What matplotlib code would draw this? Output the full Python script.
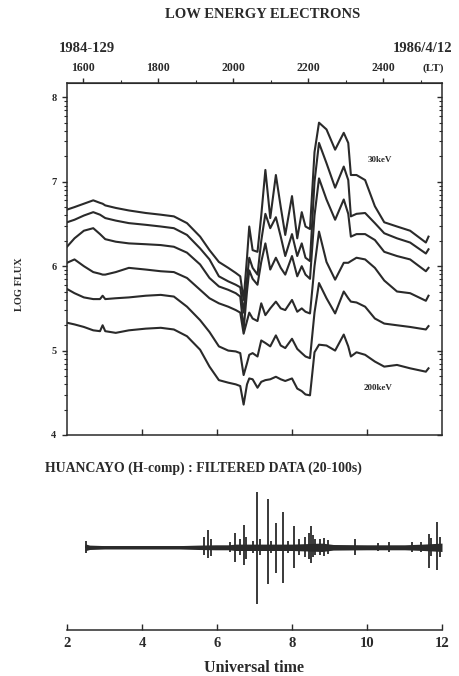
import matplotlib
matplotlib.use("Agg")
import matplotlib.pyplot as plt
from matplotlib.ticker import FixedLocator, NullFormatter
import numpy as np

# ---------------- electron flux (log10), universal time in hours ----------------
ut = [2.0, 2.2, 2.45, 2.7, 2.88, 2.95, 3.02, 3.3, 3.65, 4.1, 4.5, 4.85, 5.2, 5.55, 5.8, 6.05, 6.3, 6.5,
      6.62, 6.71, 6.80, 6.86, 6.95, 7.08, 7.18, 7.29, 7.42, 7.57, 7.70, 7.82, 8.00, 8.14, 8.26, 8.36, 8.48, 8.60,
      8.72, 8.92, 9.15, 9.38, 9.50, 9.57, 9.72, 9.95, 10.21, 10.46, 10.80, 11.15, 11.57, 11.64]

flux_ch1 = [6.67, 6.70, 6.74, 6.78, 6.75, 6.74, 6.72, 6.69, 6.66, 6.63, 6.61, 6.59, 6.51, 6.35, 6.19, 6.05, 5.98, 5.92,
            5.88, 5.60, 6.10, 6.47, 6.19, 6.17, 6.60, 7.14, 6.57, 7.08, 6.70, 6.37, 6.83, 6.33, 6.64, 6.47, 6.44, 7.35,
            7.70, 7.62, 7.38, 7.58, 7.46, 7.08, 7.08, 7.02, 6.71, 6.52, 6.47, 6.42, 6.28, 6.35]
flux_ch2 = [6.52, 6.55, 6.60, 6.64, 6.61, 6.59, 6.57, 6.54, 6.51, 6.49, 6.47, 6.45, 6.37, 6.21, 6.08, 5.88, 5.82, 5.78,
            5.75, 5.45, 5.85, 6.10, 5.98, 5.90, 6.30, 6.62, 6.45, 6.58, 6.35, 6.12, 6.38, 6.12, 6.27, 6.10, 6.06, 7.00,
            7.46, 7.22, 6.93, 7.18, 7.02, 6.59, 6.62, 6.63, 6.51, 6.39, 6.33, 6.28, 6.15, 6.20]
flux_ch3 = [6.23, 6.33, 6.42, 6.45, 6.38, 6.35, 6.32, 6.29, 6.27, 6.26, 6.25, 6.23, 6.16, 6.02, 5.86, 5.76, 5.72, 5.68,
            5.64, 5.25, 5.70, 5.95, 5.85, 5.78, 6.05, 6.27, 5.96, 6.10, 5.98, 5.90, 6.12, 5.88, 6.00, 5.90, 5.85, 6.60,
            7.04, 6.79, 6.55, 6.79, 6.62, 6.35, 6.38, 6.38, 6.31, 6.17, 6.12, 6.08, 5.94, 5.98]
flux_ch4 = [6.04, 6.08, 6.00, 5.93, 5.91, 5.90, 5.90, 5.93, 5.98, 5.96, 5.94, 5.93, 5.86, 5.72, 5.62, 5.56, 5.52, 5.48,
            5.45, 5.20, 5.35, 5.45, 5.38, 5.35, 5.56, 5.42, 5.50, 5.58, 5.50, 5.48, 5.60, 5.46, 5.50, 5.46, 5.44, 6.00,
            6.41, 6.05, 5.84, 6.04, 6.04, 6.06, 6.10, 6.08, 5.98, 5.83, 5.70, 5.68, 5.59, 5.65]
flux_ch5 = [5.73, 5.68, 5.63, 5.61, 5.61, 5.65, 5.61, 5.62, 5.63, 5.65, 5.66, 5.64, 5.52, 5.36, 5.22, 5.05, 5.00, 4.99,
            4.97, 4.71, 4.85, 4.95, 4.97, 4.93, 5.12, 5.09, 5.05, 5.18, 5.06, 5.03, 5.14, 5.02, 4.97, 4.93, 4.91, 5.45,
            5.80, 5.62, 5.44, 5.70, 5.62, 5.58, 5.57, 5.52, 5.38, 5.32, 5.30, 5.28, 5.25, 5.29]
flux_ch6 = [5.33, 5.31, 5.28, 5.24, 5.23, 5.30, 5.23, 5.21, 5.24, 5.26, 5.27, 5.25, 5.17, 5.01, 4.81, 4.65, 4.62, 4.60,
            4.58, 4.36, 4.60, 4.67, 4.66, 4.56, 4.63, 4.65, 4.66, 4.69, 4.66, 4.64, 4.67, 4.55, 4.52, 4.48, 4.47, 4.98,
            5.07, 5.06, 5.00, 5.19, 5.05, 4.93, 4.98, 4.95, 4.87, 4.81, 4.83, 4.79, 4.75, 4.79]
channels = [flux_ch1, flux_ch2, flux_ch3, flux_ch4, flux_ch5, flux_ch6]

lt_ticks = [16, 18, 20, 22, 24]
lt_labels = ["1600", "1800", "2000", "2200", "2400"]
lt_offset = 13.57          # local time minus universal time (hours)
flux_ticks = [4, 5, 6, 7, 8]
ut_ticks = [2, 4, 6, 8, 10, 12]

# ---------------- Huancayo H-component, band-pass 20-100 s ----------------
trace_span = (2.48, 12.0)
env_ut = [2.48, 2.6, 3.0, 4.0, 5.0, 5.5, 5.95, 6.3, 6.5, 7.0, 8.0, 8.8, 9.1, 10.0, 11.0, 11.5, 12.0]
env_amp = [0.35, 0.22, 0.17, 0.17, 0.17, 0.22, 0.25, 0.25, 0.32, 0.32, 0.32, 0.42, 0.28, 0.25, 0.25, 0.32, 0.42]
burst_ut = [2.52, 5.65, 5.77, 5.85, 6.35, 6.48, 6.62, 6.71, 6.78, 6.95, 7.06, 7.15, 7.35, 7.45, 7.57, 7.77,
            7.90, 8.06, 8.20, 8.35, 8.45, 8.50, 8.56, 8.62, 8.75, 8.85, 8.95, 9.68, 10.30, 10.60, 11.20, 11.45,
            11.65, 11.72, 11.88, 11.95]
burst_hi = [0.6, 1.0, 1.7, 0.8, 0.5, 1.47, 0.8, 2.2, 1.0, 0.6, 5.57, 0.8, 4.8, 0.6, 2.4, 3.57, 0.6, 2.13,
            0.8, 1.0, 1.4, 2.13, 1.2, 0.8, 0.8, 0.9, 0.7, 0.8, 0.4, 0.5, 0.5, 0.5, 1.33, 0.9, 2.57, 1.0]
burst_lo = [0.6, 0.8, 1.1, 0.9, 0.5, 1.43, 0.8, 1.8, 1.2, 0.6, 5.67, 0.8, 3.67, 0.6, 2.53, 3.6, 0.6, 2.1,
            0.8, 1.0, 1.2, 1.53, 1.0, 0.8, 0.8, 0.9, 0.7, 0.77, 0.4, 0.5, 0.5, 0.5, 2.1, 0.9, 2.27, 1.0]

INK = "#2a2a2a"
W, H = 460, 676
FONT = dict(family="Liberation Serif", fontweight="bold", color=INK)


def fx(px):
    return px / W


def fy(py):
    return 1 - py / H


fig = plt.figure(figsize=(W / 100, H / 100), dpi=100)
fig.patch.set_facecolor("white")

# ---------------- upper panel: log flux ----------------
ax = fig.add_axes([fx(67), fy(435), fx(442) - fx(67), fy(83) - fy(435)])
for vals in channels:
    ax.plot(ut, vals, color=INK, lw=1.5, solid_joinstyle="round")
ax.set_xlim(2, 12)
ax.set_ylim(4, 8.17)
for s in ax.spines.values():
    s.set_color(INK)
    s.set_linewidth(1.1)

minor_log = [d + np.log10(k) for d in range(4, 8) for k in range(2, 10)]
ax.yaxis.set_major_locator(FixedLocator(flux_ticks))
ax.yaxis.set_minor_locator(FixedLocator(minor_log))
ax.set_yticklabels([str(t) for t in flux_ticks], fontsize=7.5, **FONT)
ax.tick_params(axis="y", which="major", direction="out", length=3.5, width=1, color=INK, pad=4,
               right=True)
ax.tick_params(axis="y", which="minor", direction="out", length=2, width=0.8, color=INK, right=True)
ax.set_xticks([4, 6, 8, 10])
ax.tick_params(axis="x", which="major", direction="in", length=4, width=1, color=INK, labelbottom=False)

# right-side ticks point inward
for t in ax.yaxis.get_major_ticks() + ax.yaxis.get_minor_ticks():
    t.tick2line.set_marker(matplotlib.lines.TICKLEFT)

sec = ax.secondary_xaxis("top", functions=(lambda u: u + lt_offset, lambda l: l - lt_offset))
sec.xaxis.set_major_locator(FixedLocator(lt_ticks))
sec.xaxis.set_minor_locator(FixedLocator([17, 19, 21, 23, 25]))
sec.xaxis.set_minor_formatter(NullFormatter())
sec.set_xticklabels(lt_labels, fontsize=8.5, **FONT)
sec.tick_params(axis="x", which="major", direction="out", length=3.5, width=1, color=INK, pad=3)
sec.tick_params(axis="x", which="minor", direction="out", length=2, width=0.8, color=INK)
sec.spines["top"].set_color(INK)

ax.text(10.35, 7.26, "30keV", fontsize=6.5, ha="center", va="center", **FONT)
ax.text(10.29, 4.56, "200keV", fontsize=6.5, ha="center", va="center", **FONT)

fig.text(fx(263), fy(15), "LOW ENERGY ELECTRONS", fontsize=10.5, ha="center", va="center", **FONT)
fig.text(fx(87), fy(48), "1984-129", fontsize=10.5, ha="center", va="center", **FONT)
fig.text(fx(423), fy(48), "1986/4/12", fontsize=10.5, ha="center", va="center", **FONT)
fig.text(fx(433), fy(68), "(LT)", fontsize=8, ha="center", va="center", **FONT)
fig.text(fx(20), fy(284), "LOG FLUX", fontsize=7.5, rotation=90, ha="center", va="center", **FONT)

# ---------------- lower panel: filtered magnetogram ----------------
bx = fig.add_axes([fx(67), fy(630), fx(442) - fx(67), fy(480) - fy(630)])
bx.set_xlim(2, 12)
bx.set_ylim(-8.27, 6.73)
bx.hlines(0, *trace_span, color=INK, lw=1.2)
env_a = np.array(env_amp)
bx.fill_between(env_ut, -env_a, env_a, color=INK, lw=0)
bx.vlines(burst_ut, -np.array(burst_lo), np.array(burst_hi), color=INK, lw=1.3)
for side in ("left", "right", "top"):
    bx.spines[side].set_visible(False)
bx.spines["bottom"].set_color(INK)
bx.spines["bottom"].set_linewidth(1.1)
bx.set_yticks([])
bx.set_xticks(ut_ticks)
bx.set_xticklabels([str(t) for t in ut_ticks], fontsize=10.5, **FONT)
bx.tick_params(axis="x", direction="in", length=4, width=1, color=INK, pad=5)
bx.set_xlabel("Universal time", fontsize=11.5, labelpad=7, **FONT)

fig.text(fx(45), fy(468), "HUANCAYO (H-comp) : FILTERED DATA (20-100s)", fontsize=9.9,
         ha="left", va="center", **FONT)

fig.savefig("out.png", dpi=100, facecolor="white")
